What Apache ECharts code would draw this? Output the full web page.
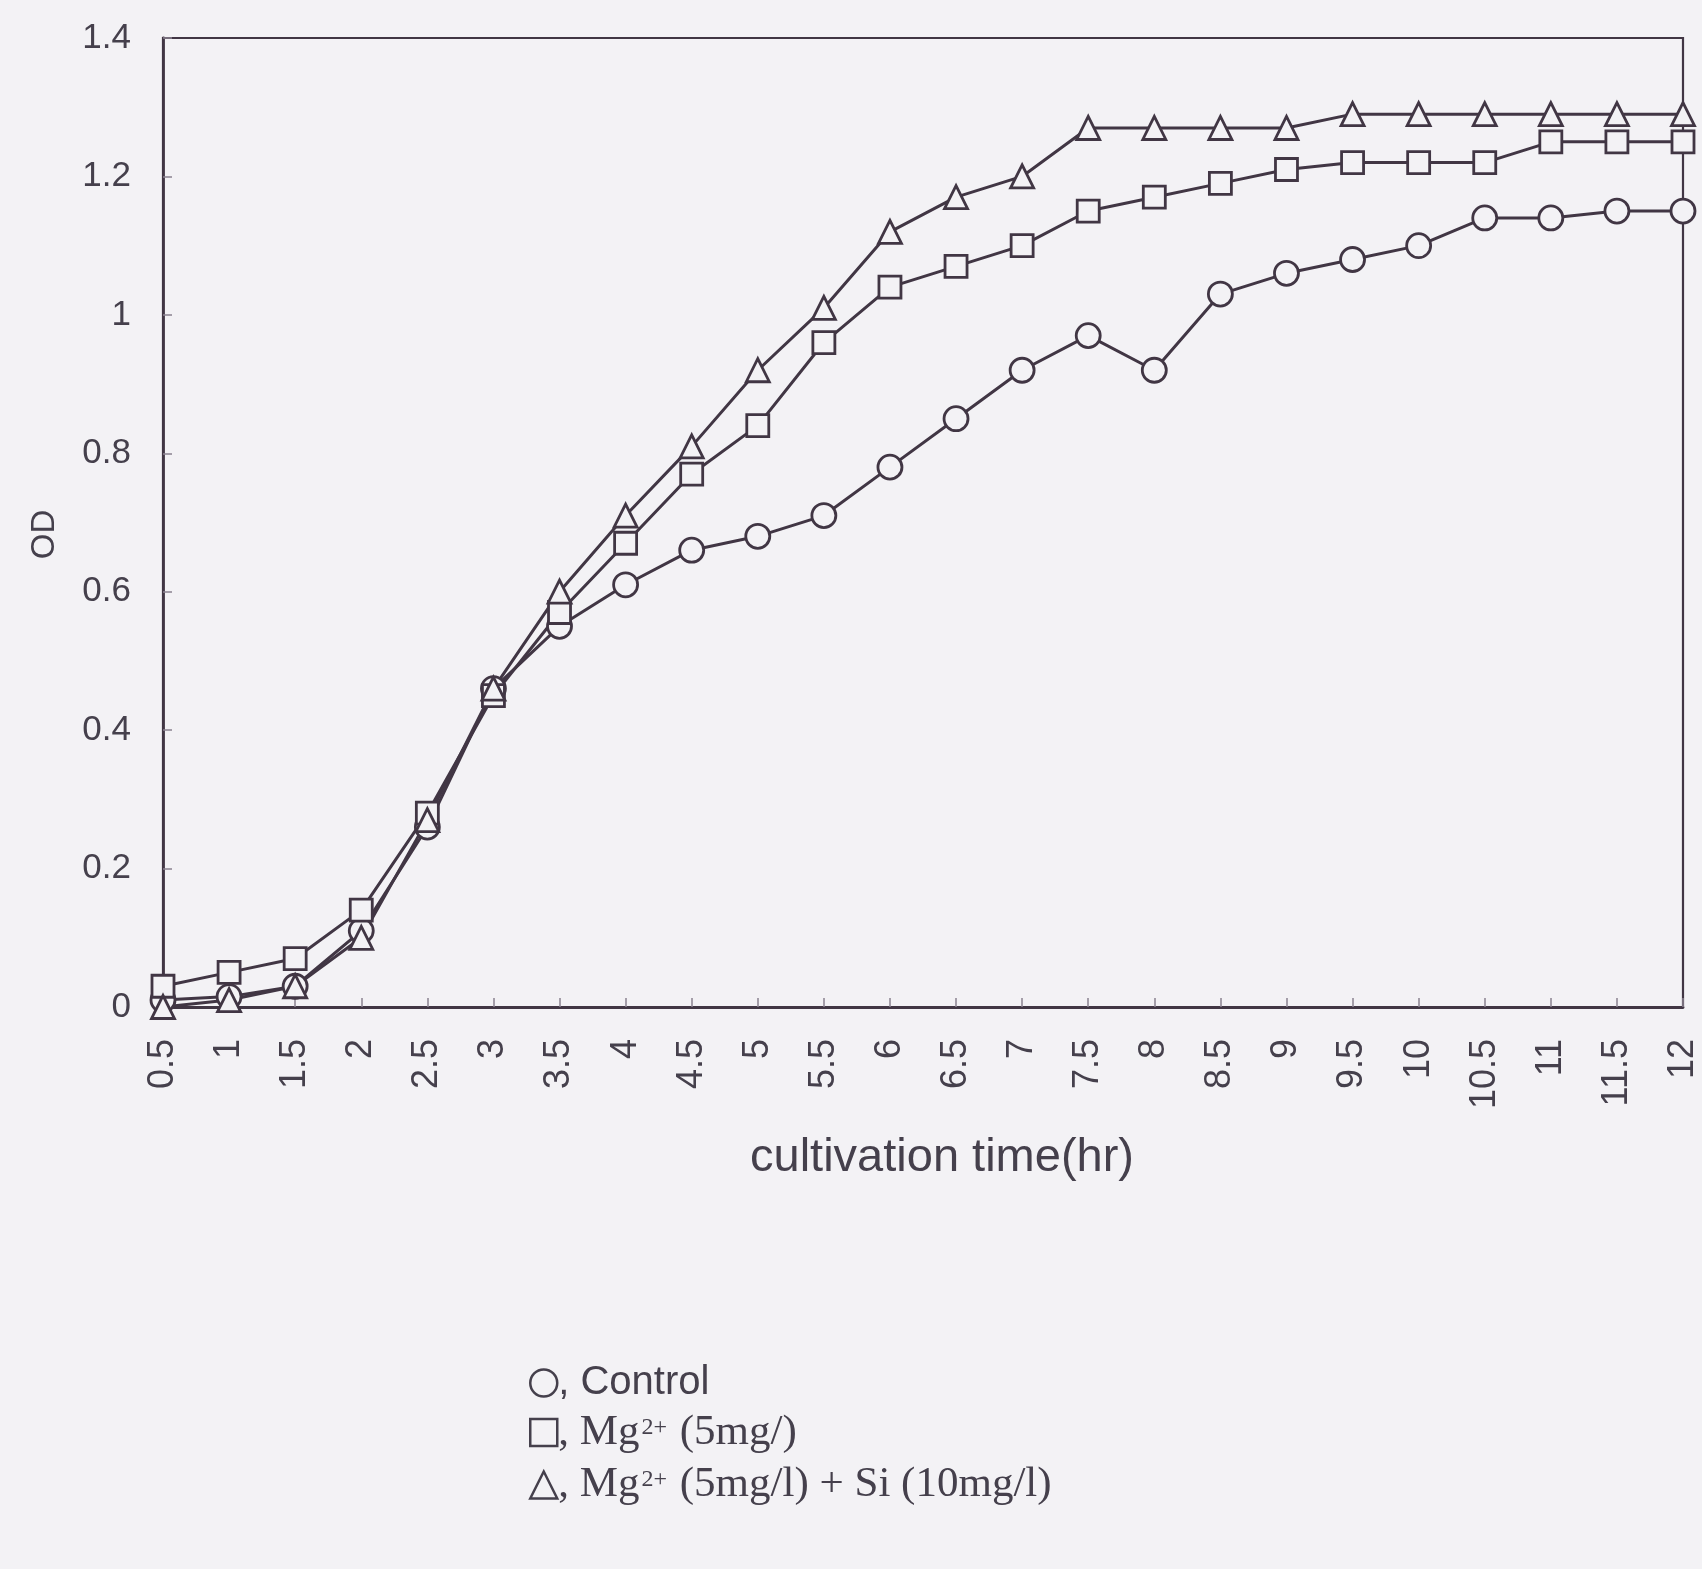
<!DOCTYPE html>
<html>
<head>
<meta charset="utf-8">
<script src="https://cdn.jsdelivr.net/npm/echarts@6/dist/echarts.min.js"></script>
<style>html,body{margin:0;padding:0;background:#f3f2f5;}#c{width:1702px;height:1569px;}</style>
</head>
<body>
<div id="c"></div>
<script>
const times = ['0.5','1','1.5','2','2.5','3','3.5','4','4.5','5','5.5','6','6.5','7','7.5','8','8.5','9','9.5','10','10.5','11','11.5','12'];
const controlOD = [0.01,0.015,0.03,0.11,0.26,0.46,0.55,0.61,0.66,0.68,0.71,0.78,0.85,0.92,0.97,0.92,1.03,1.06,1.08,1.10,1.14,1.14,1.15,1.15];
const mgOD = [0.03,0.05,0.07,0.14,0.28,0.45,0.57,0.67,0.77,0.84,0.96,1.04,1.07,1.10,1.15,1.17,1.19,1.21,1.22,1.22,1.22,1.25,1.25,1.25];
const mgSiOD = [0.0,0.01,0.03,0.10,0.27,0.46,0.60,0.71,0.81,0.92,1.01,1.12,1.17,1.20,1.27,1.27,1.27,1.27,1.29,1.29,1.29,1.29,1.29,1.29];
const seriesNames = ['Control','Mg2+ (5mg/)','Mg2+ (5mg/l) + Si (10mg/l)'];

const ink = '#413644';
const txt = '#45404c';
const bg = '#f3f2f5';
const chart = echarts.init(document.getElementById('c'));
function mk(name, data, symbol, size) {
  return {
    name, type: 'line', data, symbol, symbolSize: size,
    lineStyle: {color: ink, width: 3},
    itemStyle: {color: bg, borderColor: ink, borderWidth: 2.8},
    z: 3
  };
}
chart.setOption({
  backgroundColor: bg,
  animation: false,
  grid: {left: 163, right: 19, top: 38, bottom: 562, show: true, borderColor: ink, borderWidth: 2.2, backgroundColor: 'transparent'},
  xAxis: {
    type: 'category', data: times, boundaryGap: false,
    name: 'cultivation time(hr)', nameLocation: 'middle', nameGap: 128,
    nameTextStyle: {fontFamily: 'Liberation Sans', fontSize: 47, color: txt, padding: [0, 0, 0, 38]},
    axisLine: {lineStyle: {color: ink, width: 2.8}},
    axisTick: {inside: true, length: 9, lineStyle: {color: '#8a8290', width: 1.5}, alignWithLabel: true, interval: 0},
    axisLabel: {rotate: 90, interval: 0, margin: 32, fontFamily: 'Liberation Sans', fontSize: 36, color: txt},
    splitLine: {show: false}
  },
  yAxis: {
    type: 'value', min: 0, max: 1.4, interval: 0.2,
    name: 'OD', nameLocation: 'middle', nameGap: 102,
    nameTextStyle: {fontFamily: 'Liberation Sans', fontSize: 33, color: txt, padding: [0, 24, 0, 0]},
    axisLine: {show: true, lineStyle: {color: ink, width: 2.8}},
    axisTick: {show: true, inside: true, length: 9, lineStyle: {color: '#8a8290', width: 1.5}},
    axisLabel: {margin: 32, fontFamily: 'Liberation Sans', fontSize: 35, color: txt},
    splitLine: {show: false}
  },
  legend: {
    orient: 'vertical', left: 524, top: 1358, itemGap: 8, itemWidth: 27, itemHeight: 27,
    data: [
      {name: seriesNames[0], icon: 'circle'},
      {name: seriesNames[1], icon: 'rect'},
      {name: seriesNames[2], icon: 'triangle'}
    ],
    itemStyle: {color: bg, borderColor: txt, borderWidth: 2.5},
    formatter: function (n) {
      if (n === seriesNames[0]) return '{s|, Control}';
      if (n === seriesNames[1]) return '{r|, Mg}{sup|2+}{r| (5mg/)}';
      return '{r|, Mg}{sup|2+}{r| (5mg/l) + Si (10mg/l)}';
    },
    textStyle: {
      color: txt, padding: [0, 0, 0, -4],
      rich: {
        s: {fontFamily: 'Liberation Sans', fontSize: 40, color: txt, lineHeight: 34},
        r: {fontFamily: 'Liberation Serif', fontSize: 43, color: txt, lineHeight: 34},
        sup: {fontFamily: 'Liberation Serif', fontSize: 24, color: txt, verticalAlign: 'top', lineHeight: 34, padding: [0, 2, 16, 2]}
      }
    }
  },
  series: [
    mk(seriesNames[0], controlOD, 'circle', 24),
    mk(seriesNames[1], mgOD, 'rect', 22),
    mk(seriesNames[2], mgSiOD, 'triangle', 23)
  ]
});
</script>
</body>
</html>
